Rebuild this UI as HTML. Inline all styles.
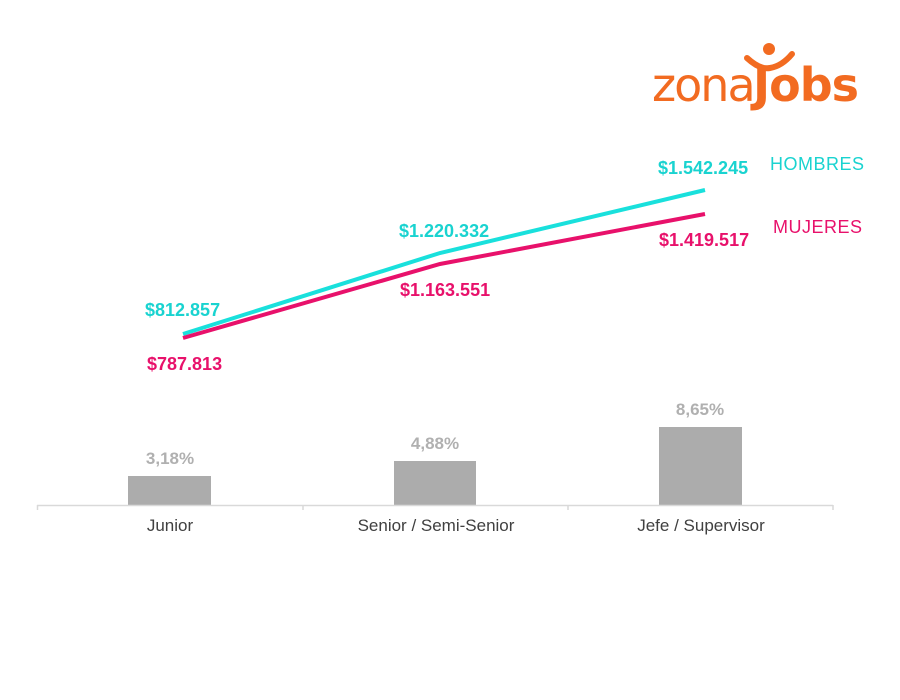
<!DOCTYPE html>
<html><head><meta charset="utf-8"><style>
body{margin:0;background:#fff;}
svg{display:block;font-family:"Liberation Sans",Arial,sans-serif;}
</style></head><body>
<svg width="900" height="700" viewBox="0 0 900 700">
<rect width="900" height="700" fill="#fff"/>
<!-- logo -->
<text x="652" y="101" font-size="46" fill="#f26b21" font-family="'DejaVu Sans',sans-serif" letter-spacing="-2">zona</text>
<text x="753" y="101" font-size="46" fill="#f26b21" font-weight="bold" font-family="'DejaVu Sans',sans-serif" letter-spacing="-1">Jobs</text>
<circle cx="769" cy="49" r="6" fill="#f26b21"/>
<path d="M747 58 Q760 70 770 68 Q782 66 792 54" stroke="#f26b21" stroke-width="6" fill="none" stroke-linecap="round"/>
<!-- bars -->
<rect x="128" y="476" width="83" height="29" fill="#acacac"/>
<rect x="394" y="461" width="82" height="44" fill="#acacac"/>
<rect x="659" y="427" width="83" height="78" fill="#acacac"/>
<g fill="#b0b0b0" font-size="17" font-weight="bold" text-anchor="middle">
<text x="170" y="464">3,18%</text>
<text x="435" y="449">4,88%</text>
<text x="700" y="415">8,65%</text>
</g>
<!-- axis -->
<g stroke="#d9d9d9" stroke-width="1.5">
<line x1="37" y1="505.5" x2="833" y2="505.5"/>
<line x1="37.5" y1="505" x2="37.5" y2="510"/>
<line x1="303" y1="505" x2="303" y2="510"/>
<line x1="568" y1="505" x2="568" y2="510"/>
<line x1="833" y1="505" x2="833" y2="510"/>
</g>
<g fill="#404040" font-size="17" text-anchor="middle">
<text x="170" y="531">Junior</text>
<text x="436" y="531">Senior / Semi-Senior</text>
<text x="701" y="531">Jefe / Supervisor</text>
</g>
<!-- lines -->
<polyline points="183,334 440,253 705,190" fill="none" stroke="#19e0dc" stroke-width="4"/>
<polyline points="183,338 440,264 705,214" fill="none" stroke="#e8116b" stroke-width="4"/>
<g font-size="18" font-weight="bold">
<text x="145" y="316" fill="#19d3d0">$812.857</text>
<text x="147" y="370" fill="#e8116b">$787.813</text>
<text x="399" y="237" fill="#19d3d0">$1.220.332</text>
<text x="400" y="296" fill="#e8116b">$1.163.551</text>
<text x="658" y="174" fill="#19d3d0">$1.542.245</text>
<text x="659" y="246" fill="#e8116b">$1.419.517</text>
</g>
<g font-size="18" letter-spacing="0.5">
<text x="770" y="170" fill="#19d3d0">HOMBRES</text>
<text x="773" y="233" fill="#e8116b">MUJERES</text>
</g>
</svg>
</body></html>
